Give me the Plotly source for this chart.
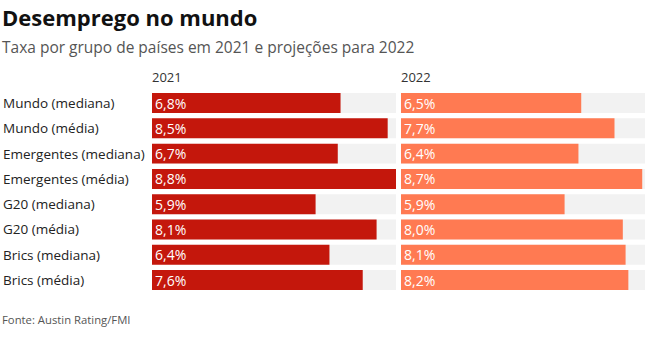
import plotly.graph_objects as go

categories = ["Mundo (mediana)", "Mundo (média)", "Emergentes (mediana)", "Emergentes (média)",
              "G20 (mediana)", "G20 (média)", "Brics (mediana)", "Brics (média)"]
values_2021 = [6.8, 8.5, 6.7, 8.8, 5.9, 8.1, 6.4, 7.6]
values_2022 = [6.5, 7.7, 6.4, 8.7, 5.9, 8.0, 8.1, 8.2]
max_val = 8.8

W, H = 648, 360
FONT = "Open Sans"

def fmt(v):
    return f"{v:.1f}".replace(".", ",") + "%"

fig = go.Figure()
for vals, color, xa, ya in [(values_2021, "#C4170C", "x", "y"), (values_2022, "#FF7A52", "x2", "y2")]:
    fig.add_trace(go.Bar(y=categories, x=[max_val] * len(categories), orientation="h",
                         marker=dict(color="#F2F2F2", line=dict(width=0)), hoverinfo="skip",
                         xaxis=xa, yaxis=ya, showlegend=False))
    fig.add_trace(go.Bar(y=categories, x=vals, orientation="h",
                         marker=dict(color=color, line=dict(width=0)),
                         text=[fmt(v) for v in vals], textposition="inside",
                         insidetextanchor="start",
                         textfont=dict(family=FONT, size=14, color="white"),
                         xaxis=xa, yaxis=ya, showlegend=False, cliponaxis=False))

ytop, ybot = 90.4, 292.7
ydom = [1 - ybot / H, 1 - ytop / H]
axis_common = dict(showgrid=False, zeroline=False, showticklabels=False, ticks="", showline=False, fixedrange=True)
fig.update_layout(
    width=W, height=H, margin=dict(l=0, r=0, t=0, b=0),
    paper_bgcolor="white", plot_bgcolor="white",
    barmode="overlay", bargap=0.21,
    uniformtext=dict(minsize=14, mode="show"),
    font=dict(family=FONT),
    xaxis=dict(domain=[152 / W, 396 / W], range=[0, max_val], **axis_common),
    xaxis2=dict(domain=[401 / W, 645 / W], range=[0, max_val], **axis_common),
    yaxis=dict(domain=ydom, categoryorder="array", categoryarray=categories, autorange="reversed",
               anchor="x", **axis_common),
    yaxis2=dict(domain=ydom, categoryorder="array", categoryarray=categories, autorange="reversed",
                anchor="x2", **axis_common),
)

band = (ybot - ytop) / len(categories)
annotations = []
for i, c in enumerate(categories):
    yc = ytop + band * (i + 0.5)
    annotations.append(dict(text=c, x=1 / W, y=1 - yc / H, xref="paper", yref="paper",
                            xanchor="left", yanchor="middle", showarrow=False,
                            font=dict(family=FONT, size=13.5, color="#222")))
annotations += [
    dict(text="<b>Desemprego no mundo</b>", x=0 / W, y=1 - 17 / H, xref="paper", yref="paper",
         xanchor="left", yanchor="middle", showarrow=False,
         font=dict(family=FONT, size=22, color="#111")),
    dict(text="Taxa por grupo de países em 2021 e projeções para 2022", x=0 / W, y=1 - 47 / H,
         xref="paper", yref="paper", xanchor="left", yanchor="middle", showarrow=False,
         font=dict(family=FONT, size=15.5, color="#555")),
    dict(text="2021", x=150 / W, y=1 - 77 / H, xref="paper", yref="paper", xanchor="left",
         yanchor="middle", showarrow=False, font=dict(family=FONT, size=13, color="#333")),
    dict(text="2022", x=399 / W, y=1 - 77 / H, xref="paper", yref="paper", xanchor="left",
         yanchor="middle", showarrow=False, font=dict(family=FONT, size=13, color="#333")),
    dict(text="Fonte: Austin Rating/FMI", x=0 / W, y=1 - 319 / H, xref="paper", yref="paper",
         xanchor="left", yanchor="middle", showarrow=False,
         font=dict(family=FONT, size=11.3, color="#555")),
]
fig.update_layout(annotations=annotations)

fig.write_html("out.html", config={"displayModeBar": False},
               post_script="document.body.style.margin='0';")
